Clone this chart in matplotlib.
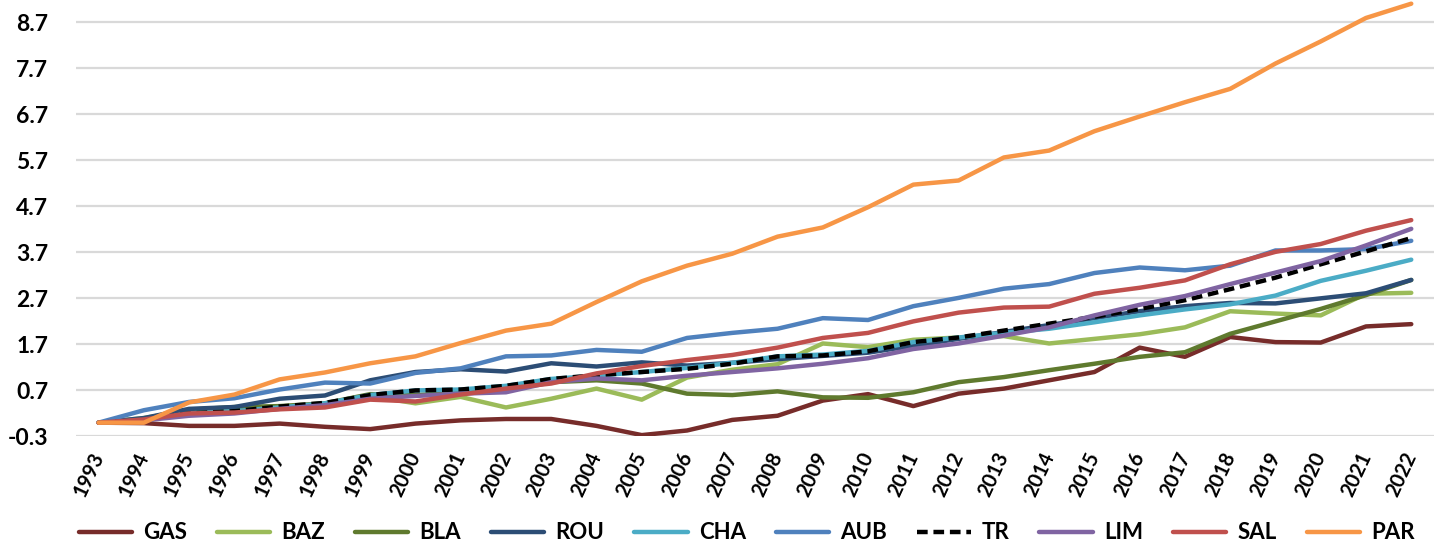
import matplotlib
matplotlib.use("Agg")
import matplotlib.pyplot as plt

years = [str(y) for y in range(1993, 2023)]

GAS = [0.0, -0.01, -0.07, -0.07, -0.02, -0.09, -0.14, -0.02, 0.05, 0.08, 0.08, -0.07, -0.27, -0.17, 0.06, 0.15,
       0.48, 0.62, 0.36, 0.63, 0.74, 0.92, 1.1, 1.63, 1.43, 1.86, 1.75, 1.74, 2.09, 2.14]
BAZ = [0.0, 0.1, 0.27, 0.33, 0.32, 0.36, 0.58, 0.42, 0.56, 0.33, 0.52, 0.74, 0.5, 0.98, 1.15, 1.27,
       1.72, 1.64, 1.8, 1.85, 1.88, 1.72, 1.82, 1.92, 2.07, 2.42, 2.37, 2.33, 2.8, 2.82]
BLA = [0.0, 0.06, 0.28, 0.34, 0.36, 0.42, 0.62, 0.6, 0.65, 0.72, 0.88, 0.92, 0.85, 0.63, 0.6, 0.68,
       0.55, 0.54, 0.66, 0.88, 0.99, 1.14, 1.28, 1.43, 1.53, 1.93, 2.2, 2.47, 2.77, 3.1]
ROU = [0.0, 0.1, 0.3, 0.34, 0.52, 0.59, 0.92, 1.1, 1.16, 1.11, 1.29, 1.22, 1.31, 1.24, 1.3, 1.38,
       1.45, 1.52, 1.67, 1.82, 1.97, 2.12, 2.27, 2.42, 2.53, 2.6, 2.59, 2.7, 2.81, 3.1]
CHA = [0.0, 0.05, 0.2, 0.25, 0.33, 0.42, 0.6, 0.7, 0.72, 0.8, 0.95, 1.02, 1.1, 1.19, 1.3, 1.44,
       1.48, 1.56, 1.75, 1.85, 1.95, 2.04, 2.18, 2.33, 2.46, 2.57, 2.76, 3.08, 3.3, 3.54]
AUB = [0.0, 0.27, 0.45, 0.53, 0.72, 0.87, 0.85, 1.08, 1.18, 1.44, 1.46, 1.58, 1.54, 1.84, 1.95, 2.04,
       2.27, 2.23, 2.53, 2.71, 2.91, 3.01, 3.25, 3.37, 3.31, 3.41, 3.74, 3.74, 3.77, 3.95]
TR = [0.0, 0.05, 0.2, 0.25, 0.35, 0.43, 0.6, 0.7, 0.72, 0.8, 0.95, 1.03, 1.1, 1.17, 1.28, 1.44,
      1.46, 1.55, 1.75, 1.85, 2.0, 2.15, 2.3, 2.47, 2.66, 2.9, 3.15, 3.44, 3.72, 4.01]
LIM = [0.0, 0.05, 0.15, 0.2, 0.3, 0.38, 0.52, 0.58, 0.63, 0.66, 0.88, 0.96, 0.92, 1.02, 1.1, 1.18,
       1.28, 1.4, 1.6, 1.72, 1.89, 2.07, 2.33, 2.56, 2.75, 3.01, 3.26, 3.51, 3.85, 4.21]
SAL = [0.0, 0.07, 0.2, 0.22, 0.29, 0.33, 0.5, 0.46, 0.61, 0.74, 0.85, 1.07, 1.23, 1.36, 1.47, 1.63,
       1.84, 1.95, 2.2, 2.39, 2.5, 2.52, 2.8, 2.93, 3.09, 3.44, 3.71, 3.88, 4.17, 4.4]
PAR = [0.0, 0.0, 0.44, 0.61, 0.94, 1.09, 1.29, 1.44, 1.73, 2.0, 2.15, 2.62, 3.07, 3.41, 3.67, 4.04,
       4.24, 4.68, 5.17, 5.26, 5.76, 5.91, 6.33, 6.65, 6.96, 7.25, 7.8, 8.28, 8.79, 9.1]

series_names = ["GAS", "BAZ", "BLA", "ROU", "CHA", "AUB", "TR", "LIM", "SAL", "PAR"]
series_vals = [GAS, BAZ, BLA, ROU, CHA, AUB, TR, LIM, SAL, PAR]
colors = ["#772C2A", "#9BBB59", "#5F7A2E", "#2C4D75", "#4BACC6", "#4F81BD", "#000000",
          "#8064A2", "#C0504D", "#F79646"]
yticks = [-0.3, 0.7, 1.7, 2.7, 3.7, 4.7, 5.7, 6.7, 7.7, 8.7]

plt.rcParams['font.family'] = ['Lato', 'DejaVu Sans']
fig = plt.figure(figsize=(14.44, 5.5), dpi=100)
ax = fig.add_axes([0.0526, 0.2064, 0.9404, 0.7936])

x = list(range(len(years)))
for name, vals, c in zip(series_names, series_vals, colors):
    if name == "TR":
        ax.plot(x, vals, color=c, lw=3.2, ls=(0, (2.4, 1.3)), label=name, solid_capstyle='round',
                dash_capstyle='butt')
    else:
        ax.plot(x, vals, color=c, lw=3.2, label=name, solid_capstyle='round', solid_joinstyle='round')

ax.set_xlim(-0.5, len(years) - 0.5)
ax.set_ylim(-0.3, 9.18)
ax.set_yticks(yticks)
ax.set_yticklabels([f"{v:.1f}" for v in yticks], fontsize=16.5, fontweight='bold')
ax.set_xticks(x)
ax.set_xticklabels(years, fontsize=14.5, fontweight='bold', rotation=65, ha='right',
                   rotation_mode='anchor', va='center')
ax.tick_params(axis='both', length=0)
ax.tick_params(axis='y', pad=20)
ax.tick_params(axis='x', pad=12)
ax.grid(axis='y', color='#D9D9D9', lw=1.6)
ax.set_axisbelow(True)
for s in ['top', 'right', 'left', 'bottom']:
    ax.spines[s].set_visible(False)

leg = fig.legend(loc='center', bbox_to_anchor=(0.517, 0.031), ncol=10, frameon=False,
                 prop={'size': 16, 'weight': 'bold'}, handlelength=2.4, columnspacing=1.35,
                 handletextpad=0.5)

fig.savefig("out.png", dpi=100)
